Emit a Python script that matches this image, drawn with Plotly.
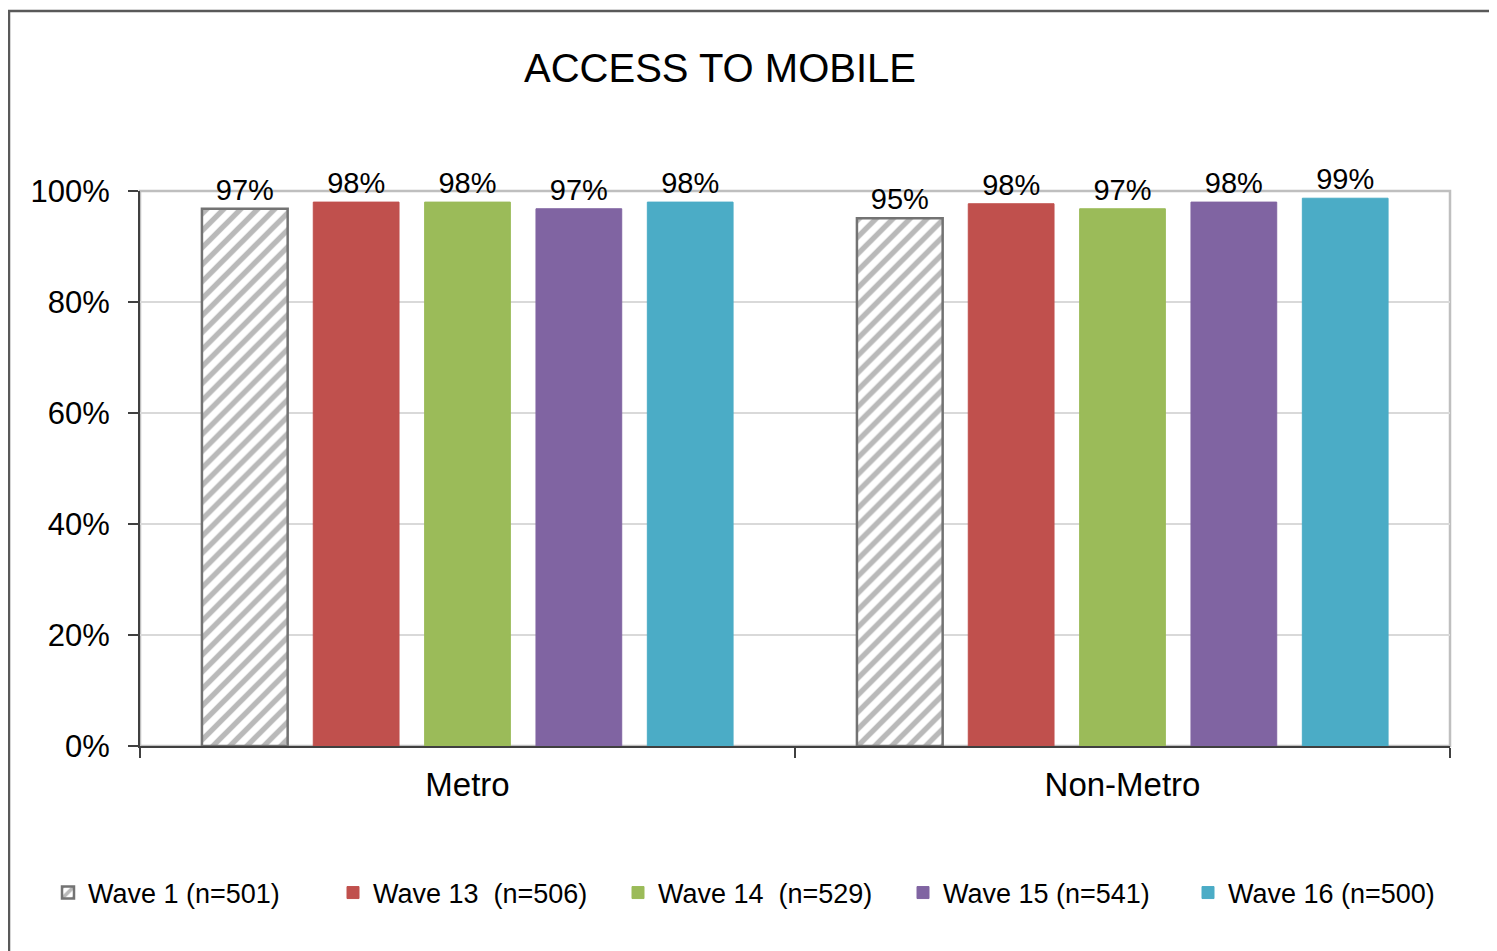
import plotly.graph_objects as go

categories = ["Metro", "Non-Metro"]
waves = ["Wave 1 (n=501)", "Wave 13  (n=506)", "Wave 14  (n=529)", "Wave 15 (n=541)", "Wave 16 (n=500)"]
metro = [96.8, 98.0, 98.0, 96.8, 98.0]
non_metro = [95.1, 97.7, 96.8, 98.0, 98.7]
labels_metro = ["97%", "98%", "98%", "97%", "98%"]
labels_non_metro = ["95%", "98%", "97%", "98%", "99%"]
colors = ["#ffffff", "#c0504d", "#9bbb59", "#8064a2", "#4bacc6"]

FONT = "Arial, Liberation Sans, sans-serif"

fig = go.Figure()
for i, name in enumerate(waves):
    if i == 0:
        marker = dict(color="white",
                      line=dict(color="#737373", width=2.5),
                      pattern=dict(shape="/", fgcolor="#737373", bgcolor="white",
                                   size=12, solidity=0.45))
    else:
        marker = dict(color=colors[i], line=dict(color=colors[i], width=1))
    fig.add_trace(go.Bar(
        x=categories,
        y=[metro[i], non_metro[i]],
        name=name,
        marker=marker,
        text=[labels_metro[i], labels_non_metro[i]],
        textposition="outside",
        textfont=dict(size=29, color="black", family=FONT),
        cliponaxis=False,
    ))

# the page adds an 8px body margin, so margins are shifted accordingly
fig.update_layout(
    width=1497, height=951,
    margin=dict(l=132, r=55, t=183, b=213),
    paper_bgcolor="white", plot_bgcolor="white",
    font=dict(family=FONT, color="black"),
    barmode="group", bargap=0.15, bargroupgap=0.23,
    title=dict(text="ACCESS TO MOBILE", x=712 / 1497, xanchor="center",
               y=1 - 60 / 951, yanchor="middle",
               font=dict(size=40, family=FONT, color="black")),
    showlegend=True,
    legend=dict(orientation="h", x=(40 - 132) / 1310, xanchor="left",
                y=(746 - 893) / 555, yanchor="middle",
                font=dict(size=27, family=FONT, color="black"),
                traceorder="normal", entrywidth=240, itemwidth=30),
)

fig.update_yaxes(range=[0, 100], tickvals=[0, 20, 40, 60, 80, 100],
                 ticktext=["0%", "20%", "40%", "60%", "80%", "100%"],
                 showgrid=True, gridcolor="#d9d9d9", gridwidth=1.5,
                 showline=True, linecolor="#404040", linewidth=2,
                 ticks="outside", ticklen=10, tickcolor="#404040", tickwidth=2,
                 ticklabelstandoff=12,
                 tickfont=dict(size=31, family=FONT, color="black"), zeroline=False)
fig.update_xaxes(showline=True, linecolor="#404040", linewidth=2,
                 ticks="outside", tickson="boundaries", ticklen=10,
                 tickcolor="#404040", tickwidth=2, ticklabelstandoff=8,
                 tickfont=dict(size=33, family=FONT, color="black"))

# plot-area border (gray top and right)
fig.add_shape(type="rect", xref="paper", yref="paper", x0=0, x1=1, y0=0, y1=1,
              line=dict(color="#bfbfbf", width=2.5), layer="below")
# outer chart border
fig.add_shape(type="rect", xref="paper", yref="paper",
              x0=(9 - 140) / 1310, x1=(1510 - 140) / 1310,
              y0=(746 - 960) / 555, y1=(746 - 11) / 555,
              line=dict(color="#595959", width=2.5))

fig.write_html("out.html")
